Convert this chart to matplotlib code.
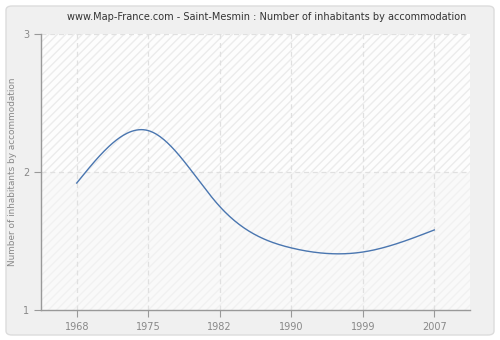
import numpy as np
import matplotlib
matplotlib.use("Agg")
import matplotlib.pyplot as plt
from matplotlib.patches import FancyBboxPatch, Rectangle

years = ["1968", "1975", "1982", "1990", "1999", "2007"]
inhabitants = [1.92, 2.30, 1.75, 1.45, 1.42, 1.58]
y_ticks = [1, 2, 3]

title = "www.Map-France.com - Saint-Mesmin : Number of inhabitants by accommodation"
y_label = "Number of inhabitants by accommodation"


def natural_spline(x, y, xs):
    x = np.asarray(x, float)
    y = np.asarray(y, float)
    n = len(x)
    h = np.diff(x)
    A = np.zeros((n, n))
    b = np.zeros(n)
    A[0, 0] = A[-1, -1] = 1
    for i in range(1, n - 1):
        A[i, i - 1] = h[i - 1]
        A[i, i] = 2 * (h[i - 1] + h[i])
        A[i, i + 1] = h[i]
        b[i] = 3 * ((y[i + 1] - y[i]) / h[i] - (y[i] - y[i - 1]) / h[i - 1])
    c = np.linalg.solve(A, b)
    out = np.empty_like(xs)
    for k, t in enumerate(xs):
        i = min(max(np.searchsorted(x, t) - 1, 0), n - 2)
        bb = (y[i + 1] - y[i]) / h[i] - h[i] * (2 * c[i] + c[i + 1]) / 3
        d = (c[i + 1] - c[i]) / (3 * h[i])
        dt = t - x[i]
        out[k] = y[i] + bb * dt + c[i] * dt ** 2 + d * dt ** 3
    return out


fig = plt.figure(figsize=(5, 3.4), dpi=100)
fig.patch.set_facecolor("white")
fig.patches.append(FancyBboxPatch((6 / 500, 5 / 340), 488 / 500, 329 / 340,
                                  boxstyle="round,pad=0,rounding_size=0.012",
                                  transform=fig.transFigure, facecolor="#f0f0f0",
                                  edgecolor="#dcdcdc", linewidth=1.0, zorder=-10))

ax = fig.add_axes([41 / 500, 30 / 340, 429 / 500, 276 / 340])
ax.set_zorder(1)
ax.set_facecolor("#fbfbfb")
xi = np.arange(len(years))
ax.set_xlim(-0.5, len(years) - 0.5)
ax.set_ylim(1, 3)

# hatched background, stronger above y=2
ax.add_patch(Rectangle((-0.5, 2), len(years), 1, facecolor="#fdfdfd",
                       edgecolor="#ececec", hatch="////", linewidth=0, zorder=0))
ax.add_patch(Rectangle((-0.5, 1), len(years), 1, facecolor="#f9f9f9",
                       edgecolor="#f1f1f1", hatch="////", linewidth=0, zorder=0))

for x in xi:
    ax.axvline(x, color="#e0e0e0", linestyle=(0, (4, 3)), linewidth=0.9, zorder=1)
for y in y_ticks[1:]:
    ax.axhline(y, color="#e0e0e0", linestyle=(0, (4, 3)), linewidth=0.9, zorder=1)

xs = np.linspace(0, len(years) - 1, 300)
ax.plot(xs, natural_spline(xi, inhabitants, xs), color="#4a76b0", linewidth=1.0, zorder=3)

ax.set_xticks(xi)
ax.set_xticklabels(years)
ax.set_yticks(y_ticks)
ax.tick_params(axis="both", colors="#999999", labelcolor="#888888", labelsize=7,
               length=5, width=0.8, direction="out")
for s in ("top", "right"):
    ax.spines[s].set_visible(False)
for s in ("left", "bottom"):
    ax.spines[s].set_color("#999999")
    ax.spines[s].set_linewidth(1.0)

ax.set_ylabel(y_label, color="#888888", fontsize=6.4, labelpad=4)
fig.text(267 / 500, 1 - 17 / 340, title, ha="center", va="center",
         fontsize=7.0, color="#333333")

fig.savefig("out.png", dpi=100, facecolor=fig.get_facecolor())
